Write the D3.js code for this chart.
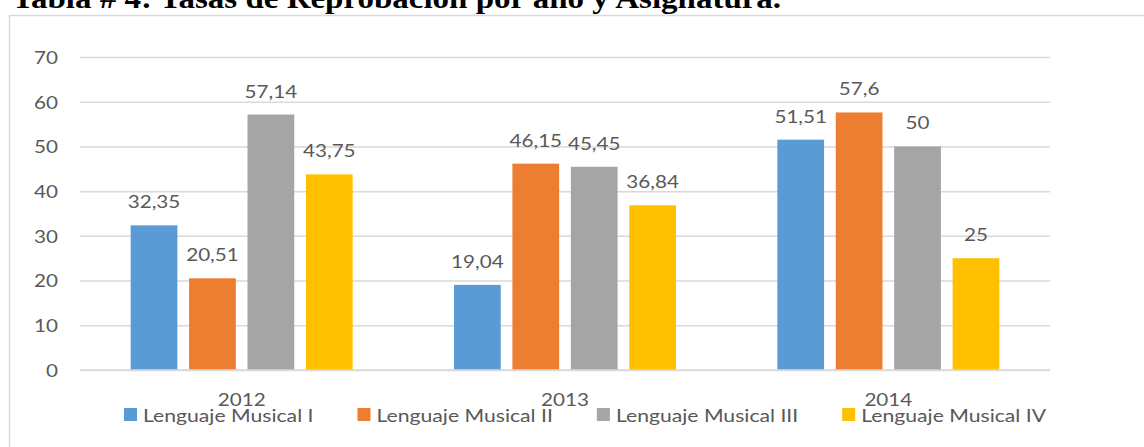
<!DOCTYPE html>
<html>
<head>
<meta charset="utf-8">
<script src="https://cdn.jsdelivr.net/npm/d3@7"></script>
<style>
  html, body { margin: 0; padding: 0; background: #fff; }
  svg { display: block; }
</style>
</head>
<body>
<svg id="chart" width="1144" height="447"></svg>
<script>
// Reprobation rates (%) per year and subject
const years = ["2012", "2013", "2014"];
const subjects = ["Lenguaje Musical I", "Lenguaje Musical II", "Lenguaje Musical III", "Lenguaje Musical IV"];
const lenguajeMusicalI   = [32.35, 19.04, 51.51];
const lenguajeMusicalII  = [20.51, 46.15, 57.6];
const lenguajeMusicalIII = [57.14, 45.45, 50];
const lenguajeMusicalIV  = [43.75, 36.84, 25];
const yTicks = [0, 10, 20, 30, 40, 50, 60, 70];
const colors = ["#5b9bd5", "#ed7d31", "#a5a5a5", "#ffc000"];
const titleText = "Tabla # 4: Tasas de Reprobación por año y Asignatura.";

const seriesValues = [lenguajeMusicalI, lenguajeMusicalII, lenguajeMusicalIII, lenguajeMusicalIV];
const rows = years.map((yr, i) => ({
  year: yr,
  values: subjects.map((s, j) => ({ subject: s, j, value: seriesValues[j][i] }))
}));

const svg = d3.select("#chart");
const labelFont = "Lato, 'Open Sans', sans-serif";
const labelSize = 17.5;
const sx = 1.18;            // horizontal stretch of the chart lettering
const legendSx = 1.21;      // legend lettering is a little wider still
const textColor = "#595959";

// Places a text element at (x, y) with a horizontal stretch applied
function placeText(sel, fx, fy, s = sx) {
  sel.attr("x", 0).attr("y", 0)
     .attr("transform", function (d, i) {
       return `translate(${fx(d, i)},${fy(d, i)}) scale(${s},1)`;
     });
}

// Title above the chart frame (clipped by the page top)
svg.append("text")
  .attr("transform", "translate(12,8) scale(1.1,1)")
  .attr("font-family", "'Liberation Serif', 'Times New Roman', serif")
  .attr("font-weight", "bold")
  .attr("font-size", 30)
  .attr("fill", "#000")
  .text(titleText);

// Chart frame
svg.append("rect")
  .attr("x", 9.5).attr("y", 15.5)
  .attr("width", 1200).attr("height", 500)
  .attr("fill", "#fff")
  .attr("stroke", "#d9d9d9")
  .attr("stroke-width", 1.5);

const plot = { left: 80, right: 1050, top: 57, bottom: 370 };

const y = d3.scaleLinear().domain([0, 70]).range([plot.bottom, plot.top]);
const x0 = d3.scaleBand().domain(years).range([plot.left, plot.right]).padding(0);
const groupInner = 222;
const x1 = d3.scaleBand().domain(d3.range(subjects.length))
  .range([(x0.bandwidth() - groupInner) / 2, (x0.bandwidth() + groupInner) / 2])
  .paddingInner(0.2).paddingOuter(0);

// Gridlines and value axis labels
const yAxis = d3.axisLeft(y).tickValues(yTicks).tickSize(-(plot.right - plot.left)).tickPadding(22);
const gy = svg.append("g")
  .attr("transform", `translate(${plot.left},0)`)
  .call(yAxis);
gy.select(".domain").remove();
gy.selectAll(".tick line").attr("stroke", "#d9d9d9").attr("stroke-width", 1.5);
gy.selectAll(".tick text")
  .attr("font-family", labelFont)
  .attr("font-size", labelSize)
  .attr("fill", textColor)
  .attr("dy", "0.36em")
  .call(placeText, () => -22, () => 0);

// Bars
const groups = svg.append("g").selectAll("g")
  .data(rows).join("g")
  .attr("transform", d => `translate(${x0(d.year)},0)`);

groups.selectAll("rect")
  .data(d => d.values).join("rect")
  .attr("x", d => x1(d.j))
  .attr("y", d => y(d.value))
  .attr("width", x1.bandwidth())
  .attr("height", d => y(0) - y(d.value))
  .attr("fill", d => colors[d.j]);

// Value labels
const fmt = v => String(v).replace(".", ",");
groups.selectAll("text.val")
  .data(d => d.values).join("text")
  .attr("class", "val")
  .attr("text-anchor", "middle")
  .attr("font-family", labelFont)
  .attr("font-size", labelSize)
  .attr("fill", textColor)
  .text(d => fmt(d.value))
  .call(placeText, d => x1(d.j) + x1.bandwidth() / 2, d => y(d.value) - 17);

// Baseline (category axis)
svg.append("line")
  .attr("x1", plot.left).attr("x2", plot.right)
  .attr("y1", y(0)).attr("y2", y(0))
  .attr("stroke", "#d9d9d9").attr("stroke-width", 1.5);

// Category labels
svg.append("g").selectAll("text")
  .data(years).join("text")
  .attr("text-anchor", "middle")
  .attr("font-family", labelFont)
  .attr("font-size", labelSize)
  .attr("fill", textColor)
  .text(d => d)
  .call(placeText, d => x0(d) + x0.bandwidth() / 2, () => 406);

// Legend
const legend = svg.append("g");
const items = legend.selectAll("g")
  .data(subjects).join("g");
items.append("rect")
  .attr("width", 13).attr("height", 13)
  .attr("y", 408)
  .attr("fill", (d, i) => colors[i]);
items.append("text")
  .attr("font-family", labelFont)
  .attr("font-size", labelSize)
  .attr("fill", textColor)
  .text(d => d)
  .call(placeText, () => 19, () => 421.5, legendSx);
const textWidths = [];
items.select("text").each(function () { textWidths.push(this.getComputedTextLength() * legendSx); });
const gap = 44;
let cx = 124;
items.attr("transform", (d, i) => {
  const t = `translate(${cx},0)`;
  cx += 19 + textWidths[i] + gap;
  return t;
});
</script>
</body>
</html>
